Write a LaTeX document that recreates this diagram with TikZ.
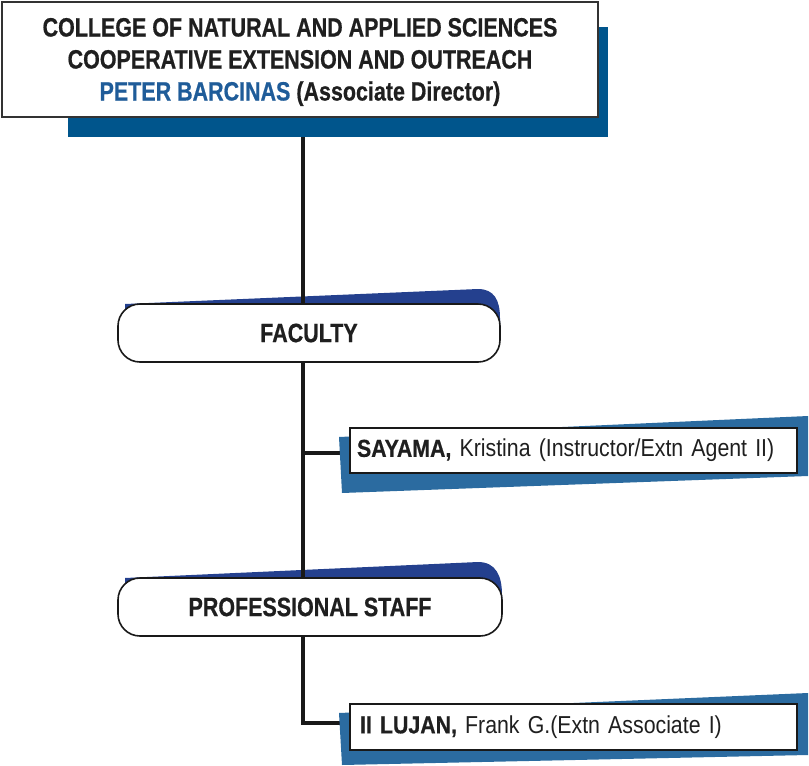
\documentclass[tikz,border=0pt]{standalone}
\usepackage{fontspec}
\setmainfont{Liberation Sans}[FakeStretch=0.81, BoldFeatures={FakeBold=0.6}]
\newfontfamily\namefont{Liberation Sans}[FakeStretch=0.87, BoldFeatures={FakeBold=0.6}]
\definecolor{topblue}{HTML}{00558C}
\definecolor{pillblue}{HTML}{24408E}
\definecolor{nameblue}{HTML}{2B6BA0}
\definecolor{textblue}{HTML}{1F5C99}
\tikzset{
  conn/.style={line width=4pt, black!90, line join=miter},
  topbox/.style={draw=black!80, line width=1.6pt, fill=white, minimum width=596pt, minimum height=115pt, inner sep=0pt},
  toptext/.style={align=center, inner sep=0pt, font=\fontsize{26.5}{32}\selectfont\bfseries, text=black!88},
  pill/.style={draw=black!90, line width=1.6pt, fill=white, rounded corners=22pt, minimum width=382pt, minimum height=58pt, inner sep=0pt, font=\fontsize{26.5}{30}\selectfont\bfseries, text=black!88},
  namebox/.style={draw=black!90, line width=2pt, fill=white, minimum width=447pt, minimum height=45pt, inner sep=0pt, text width=447pt, align=left, font=\namefont\fontsize{24.5}{28}\selectfont, text=black!88}
}
\begin{document}
\begin{tikzpicture}[x=1pt,y=-1pt]
\useasboundingbox (0,0) rectangle (809,766);
% pill shadows
\fill[pillblue] (125,304) -- (478,289) .. controls (494,289) and (500,300) .. (500,318) -- (500,330) -- (125,330) -- cycle;
\fill[pillblue] (125,578) -- (478,562) .. controls (496,562) and (502,576) .. (502,595) -- (502,605) -- (125,605) -- cycle;
% spine
\coordinate (s0) at (303,117);
\coordinate (s1) at (303,453);
\coordinate (s2) at (303,723);
\coordinate (e1) at (345,453);
\coordinate (e2) at (345,723);
\draw[conn] (s0) -- (s2) -- (e2);
\draw[conn] (s1) -- (e1);
% other shadows
\fill[topblue] (68,27) rectangle (608,137);
\fill[nameblue] (339,437) -- (808,416) -- (808,476) -- (342,493) -- cycle;
\fill[nameblue] (339,713) -- (808,693) -- (808,755) -- (342,765) -- cycle;
% boxes
\node[topbox] (top) at (300,59.5) {};
\node[toptext] (toplabel) at (300,62) {COLLEGE OF NATURAL AND APPLIED SCIENCES\\COOPERATIVE EXTENSION AND OUTREACH\\\textcolor{textblue}{PETER BARCINAS} (Associate Director)};
\node[pill] (fac) at (309,333) {FACULTY};
\node[pill, minimum width=384pt] (prof) at (310,607) {PROFESSIONAL STAFF};
\node[namebox] (say) at (573.5,450.5) {\hspace*{7pt}\textbf{SAYAMA,} Kristina (Instructor/Extn Agent II)};
\node[namebox, minimum height=46pt] (luj) at (573.5,727) {\hspace*{10pt}\textbf{II LUJAN,} Frank G.(Extn Associate I)};
\end{tikzpicture}
\end{document}
